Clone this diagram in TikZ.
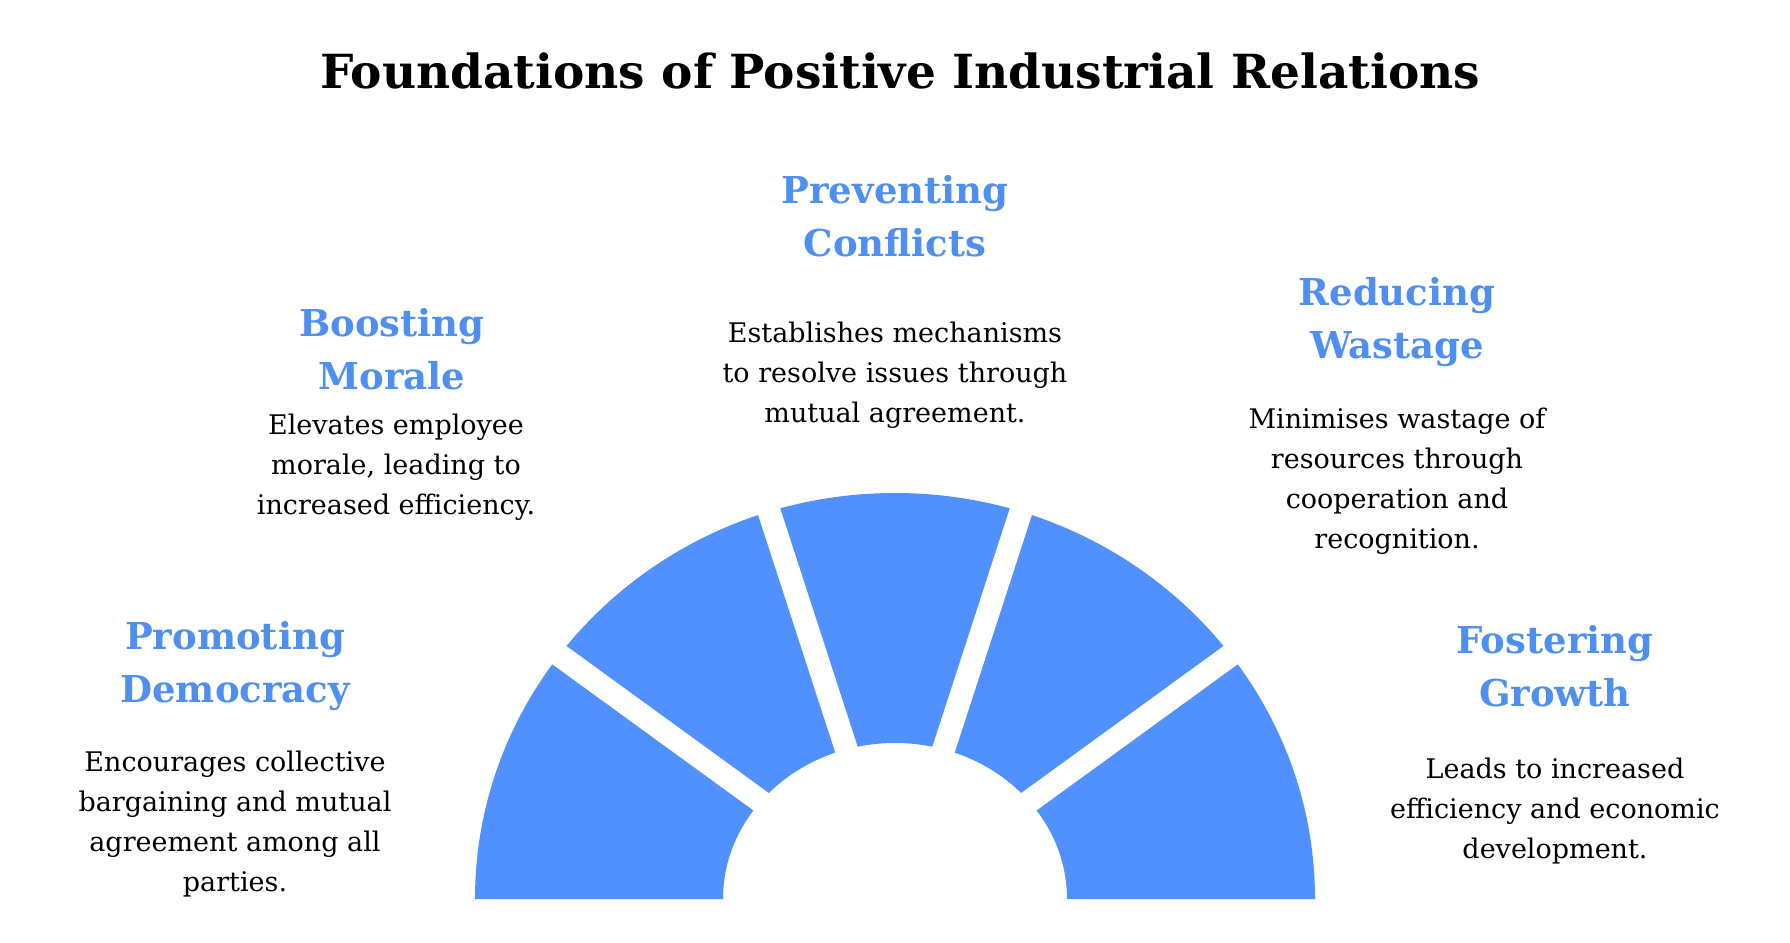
\documentclass[tikz,border=0pt]{standalone}
\usepackage{fontspec}
\setmainfont{DejaVu Serif}
\definecolor{segblue}{HTML}{5191FF}
\definecolor{headblue}{HTML}{4F8FF0}
\begin{document}
\begin{tikzpicture}[x=1pt,y=1pt,
  head/.style={align=center,text=headblue,font=\bfseries\fontsize{37}{53}\selectfont,inner sep=0},
  body/.style={align=center,font=\fontsize{27}{40}\selectfont,inner sep=0}]
\useasboundingbox (0,0) rectangle (1790,-942);
\node[font=\bfseries\fontsize{47}{60}\selectfont,inner sep=0] (title) at (900,-71) {Foundations of Positive Industrial Relations};
\fill[segblue] (475,-899) arc[start angle=180,end angle=0,x radius=420,y radius=406] -- (1067,-899) arc[start angle=0,end angle=180,x radius=172,y radius=156] -- cycle;
\coordinate (c) at (895,-899);
\foreach \a in {36,72,108,144}{\draw[white,line width=23] (c) -- ++(\a:460);}
\node[head] (h1) at (895,-216) {Preventing\\Conflicts};
\node[body] (b1) at (895,-375) {Establishes mechanisms\\to resolve issues through\\mutual agreement.};
\node[head] (h2) at (392,-349) {Boosting\\Morale};
\node[body] (b2) at (396,-467) {Elevates employee\\morale, leading to\\increased efficiency.};
\node[head] (h3) at (1397,-322) {Reducing\\Wastage};
\node[body] (b3) at (1397,-481) {Minimises wastage of\\resources through\\cooperation and\\recognition.};
\node[head] (h4) at (235,-666) {Promoting\\Democracy};
\node[body] (b4) at (235,-824) {Encourages collective\\bargaining and mutual\\agreement among all\\parties.};
\node[head] (h5) at (1555,-666) {Fostering\\Growth};
\node[body] (b5) at (1555,-811) {Leads to increased\\efficiency and economic\\development.};
\end{tikzpicture}
\end{document}
